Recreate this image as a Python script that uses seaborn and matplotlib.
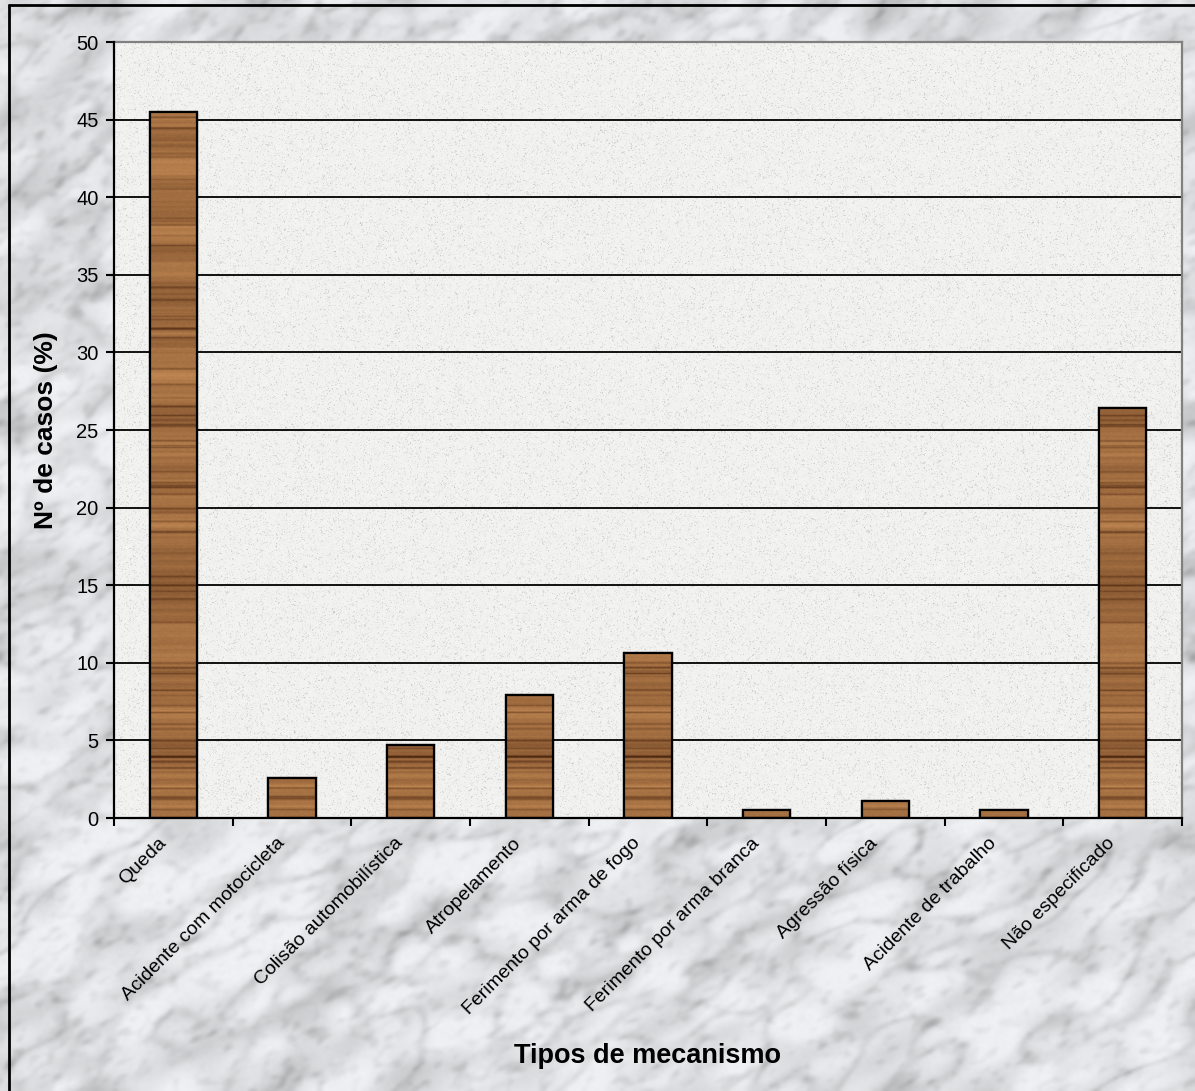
import numpy as np
import pandas as pd
import matplotlib
matplotlib.use("Agg")
import matplotlib.pyplot as plt
from matplotlib.lines import Line2D
from matplotlib.transforms import ScaledTranslation
import seaborn as sns

# ---- data -------------------------------------------------------------
categorias = [
    "Queda",
    "Acidente com motocicleta",
    "Colisão automobilística",
    "Atropelamento",
    "Ferimento por arma de fogo",
    "Ferimento por arma branca",
    "Agressão física",
    "Acidente de trabalho",
    "Não especificado",
]
percentuais = [45.5, 2.6, 4.7, 7.9, 10.6, 0.5, 1.1, 0.5, 26.4]
y_ticks = [0, 5, 10, 15, 20, 25, 30, 35, 40, 45, 50]

sns.set_theme(style="white")
plt.rcParams["font.family"] = ["Liberation Sans", "DejaVu Sans"]

W, H = 1195, 1091
fig = plt.figure(figsize=(W / 100, H / 100), dpi=100)

rng = np.random.default_rng(5)


def norm01(f):
    f = f - f.min()
    return f / f.max()


def filtered_noise(h, w, su, sv=None, angle_deg=0.0):
    """Gaussian-filtered noise; su/sv are the blur scales along/across angle."""
    if sv is None:
        sv = su
    n = rng.standard_normal((h, w))
    fy = np.fft.fftfreq(h)[:, None]
    fx = np.fft.fftfreq(w)[None, :]
    a = np.deg2rad(angle_deg)
    fu = fx * np.cos(a) - fy * np.sin(a)
    fv = fx * np.sin(a) + fy * np.cos(a)
    filt = np.exp(-(fu ** 2) * su ** 2 - (fv ** 2) * sv ** 2)
    return norm01(np.real(np.fft.ifft2(np.fft.fft2(n) * filt)))


# ---- marble backdrop --------------------------------------------------
mh, mw = 546, 598
cloud = filtered_noise(mh, mw, 45, 20, angle_deg=30)
vein_src = filtered_noise(mh, mw, 50, 22, angle_deg=28)
blotch = filtered_noise(mh, mw, 9, 5, angle_deg=30)
fine = filtered_noise(mh, mw, 2.5)
veins = np.exp(-((vein_src - 0.5) / 0.06) ** 2) * (0.4 + blotch)
dark = (0.13 * np.clip((cloud - 0.45) / 0.45, 0, 1)
        + 0.09 * veins
        + 0.10 * np.clip((blotch - 0.5) / 0.35, 0, 1) * (0.4 + cloud)
        + 0.04 * fine)
marble = np.clip(0.97 - dark, 0.6, 1.0)
marble_rgb = np.dstack([marble * 0.985, marble * 0.99, marble])

bg = fig.add_axes([0, 0, 1, 1], zorder=-10)
bg.imshow(marble_rgb, extent=[0, 1, 0, 1], aspect="auto", interpolation="bicubic")
bg.set_xlim(0, 1)
bg.set_ylim(0, 1)
bg.axis("off")

# frame lines on the top and left edges
fig.add_artist(Line2D([9 / W, 1], [1 - 5 / H, 1 - 5 / H], color="black", lw=2, transform=fig.transFigure))
fig.add_artist(Line2D([9 / W, 9 / W], [0, 1 - 5 / H], color="black", lw=2, transform=fig.transFigure))

# ---- plot area --------------------------------------------------------
left, right, top, bottom = 114, 1182, 42, 818
ax = fig.add_axes([left / W, 1 - bottom / H, (right - left) / W, (bottom - top) / H])
ax.patch.set_visible(False)

# speckled granite fill for the plotting area
gh, gw = 776, 1068
sp = filtered_noise(gh, gw, 1.4)
sp2 = filtered_noise(gh, gw, 6)
speck = 0.965 - 0.16 * np.clip((sp - 0.55) / 0.3, 0, 1) - 0.03 * sp2
speck = np.clip(speck, 0.74, 1.0)
speck_rgb = np.dstack([speck, speck, speck * 0.995])
ax.imshow(speck_rgb, extent=[0, 1, 0, 1], transform=ax.transAxes, aspect="auto",
          interpolation="bilinear", zorder=-2)

df = pd.DataFrame({"Mecanismo": categorias, "Casos": percentuais})
sns.barplot(data=df, x="Mecanismo", y="Casos", ax=ax, width=0.4, color="#94643a",
            edgecolor="black", linewidth=1.6, saturation=1, zorder=3)

# wood-grain texture clipped into every bar
rows, cols = 800, 60
g1 = np.convolve(rng.standard_normal(rows), np.ones(3) / 3, mode="same")
g2 = np.convolve(rng.standard_normal(rows), np.ones(14) / 14, mode="same")
marks = (rng.random(rows) > 0.88) * rng.random(rows)
shade = (0.58 + 0.15 * g2 / np.abs(g2).max() + 0.07 * g1 / np.abs(g1).max()
         - 0.3 * np.convolve(marks, [0.4, 1, 0.4], mode="same"))
shade = np.clip(shade, 0.12, 0.85)
col_var = filtered_noise(rows, cols, 3, 1) * 0.10 - 0.05
s = shade[:, None] + col_var
base_light = np.array([0.80, 0.57, 0.35])
base_dark = np.array([0.30, 0.15, 0.06])
t = np.clip((s - 0.12) / 0.68, 0, 1)[..., None]
wood = base_dark + (base_light - base_dark) * t

for patch in ax.patches:
    x0 = patch.get_x()
    w = patch.get_width()
    h = patch.get_height()
    im = ax.imshow(wood, extent=[x0, x0 + w, 0, 50], aspect="auto",
                   interpolation="bilinear", zorder=3.5, origin="lower")
    im.set_clip_path(patch)
    ax.add_patch(plt.Rectangle((x0, 0), w, h, fill=False, edgecolor="black", lw=1.6, zorder=4))

# ---- axes styling -----------------------------------------------------
ax.set_xlim(-0.5, len(categorias) - 0.5)
ax.set_ylim(0, 50)
ax.set_yticks(y_ticks)
ax.set_yticklabels([str(v) for v in y_ticks], fontsize=14.5, color="black")
for v in y_ticks[1:]:
    ax.axhline(v, color="black", lw=1.3, zorder=1)

ax.set_xticks(range(len(categorias)))
ax.set_xticklabels(categorias, rotation=45, ha="right", rotation_mode="anchor",
                   fontsize=14, color="black")
ax.tick_params(axis="x", which="major", length=0, pad=12)
shift = ScaledTranslation(-16 / 100, 0, fig.dpi_scale_trans)
for lab in ax.get_xticklabels():
    lab.set_transform(lab.get_transform() + shift)
ax.set_xticks(np.arange(-0.5, len(categorias), 1.0), minor=True)
ax.tick_params(axis="x", which="minor", length=6, width=1.5, color="black", direction="out", bottom=True)
ax.tick_params(axis="y", which="major", length=6, width=1.5, color="black", direction="out", left=True, pad=5)

for side in ("left", "bottom"):
    ax.spines[side].set_color("black")
    ax.spines[side].set_linewidth(1.6)
    ax.spines[side].set_zorder(5)
for side in ("top", "right"):
    ax.spines[side].set_color("#808080")
    ax.spines[side].set_linewidth(1.6)

ax.set_xlabel("Tipos de mecanismo", fontsize=19.5, fontweight="bold", color="black")
ax.set_ylabel("Nº de casos (%)", fontsize=19, fontweight="bold", color="black")
ax.xaxis.set_label_coords(0.5, -0.29)
ax.yaxis.set_label_coords(-0.052, 0.5)

fig.savefig("out.png", dpi=100)
